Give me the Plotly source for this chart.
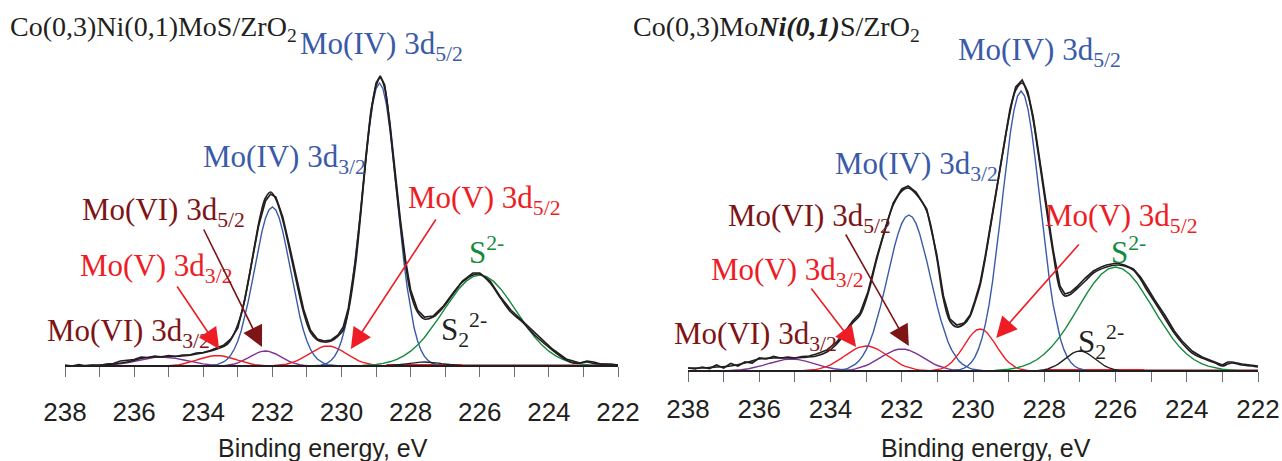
import plotly.graph_objects as go

# ================= DATA (binding energy in eV, intensity in a.u.) =================
# ---- Left panel: Co(0,3)Ni(0,1)MoS/ZrO2 ----
L_EXP_BE = [238.0,237.8,237.6,237.4,237.2,237.0,236.8,236.6,236.4,236.2,236.0,235.8,235.6,235.4,235.2,235.0,234.8,234.6,234.4,234.2,234.0,233.8,233.6,233.4,233.2,233.0,232.8,232.6,232.4,232.2,232.05,231.9,231.7,231.5,231.3,231.1,230.9,230.7,230.5,230.3,230.1,229.95,229.8,229.6,229.45,229.3,229.15,229.0,228.88,228.75,228.6,228.45,228.3,228.15,228.0,227.8,227.6,227.35,227.05,226.75,226.5,226.2,226.0,225.7,225.4,225.1,224.8,224.35,223.9,223.5,223.3,223.1,222.9,222.7,222.5,222.2,222.0]
L_EXP_I = [1,0,1.5,0,1,0.5,2,2.5,5,6,6.5,9,8.5,10,9,10.5,9.5,11,11,13,13.5,15.5,18,21,27,38,66,103,140,165,172,169,149,119,87,57,36,27,25,26,31,39,58,104,153,208,255,283,290,281,243,193,147,106,76,56,49,50,60,74,85,93,93,85,69,56,46,31,17,7,5,3,5,4,2,2,1]

L_FIT_BE = [238.0,237.4,237.0,236.6,236.2,235.8,235.4,235.0,234.6,234.2,233.9,233.6,233.3,233.1,232.9,232.7,232.5,232.35,232.2,232.05,231.9,231.7,231.5,231.3,231.1,230.9,230.7,230.5,230.3,230.1,229.95,229.8,229.6,229.45,229.3,229.15,229.0,228.88,228.75,228.6,228.45,228.3,228.15,228.0,227.8,227.6,227.35,227.05,226.75,226.5,226.2,226.0,225.7,225.4,225.1,224.8,224.35,223.9,223.5,223.3,223.1,222.9,222.7,222.5,222.2,222.0]
L_FIT_I = [0,0.5,1,2,4,7.5,9,9.5,10,12,14,17,22,33,52,84,123,150,168,174,167,146,116,84,54,34,26,24,25,30,36,55,100,150,205,252,280,288,278,240,190,143,103,73,54,47,49,59,73,84,91,92,83,68,54,45,29,16,6,3,3,4,2.5,2,1,1]

# Mo(IV) 3d5/2 (blue)
L_MO4_52_BE = [230.9,230.8,230.7,230.6,230.5,230.4,230.3,230.2,230.1,230.0,229.9,229.8,229.7,229.6,229.5,229.4,229.3,229.2,229.1,229.0,228.9,228.8,228.7,228.6,228.5,228.4,228.3,228.2,228.1,228.0,227.9,227.8,227.7,227.6,227.5,227.4,227.3,227.2,227.1,227.0,226.9]
L_MO4_52_I = [0,0.2,0.4,0.8,1.7,3.1,5.7,9.6,15.8,25.2,38.2,56.0,78.7,106.1,137.8,171.8,205.5,236.3,261.3,277.3,283,277.3,261.3,236.3,205.5,171.8,137.8,106.1,78.7,56.0,38.2,25.2,15.8,9.6,5.7,3.1,1.7,0.8,0.4,0.2,0]
# Mo(IV) 3d3/2 (blue)
L_MO4_32_BE = [234.0,233.9,233.8,233.7,233.6,233.5,233.4,233.3,233.2,233.1,233.0,232.9,232.8,232.7,232.6,232.5,232.4,232.3,232.2,232.1,232.0,231.9,231.8,231.7,231.6,231.5,231.4,231.3,231.2,231.1,231.0,230.9,230.8,230.7,230.6,230.5,230.4,230.3,230.2,230.1,230.0]
L_MO4_32_I = [0.1,0.2,0.4,0.8,1.4,2.5,4.3,7.0,11.1,17.0,25.0,35.5,48.7,64.2,81.7,100.2,118.3,134.7,147.7,156.1,159,156.1,147.7,134.7,118.3,100.2,81.7,64.2,48.7,35.5,25.0,17.0,11.1,7.0,4.3,2.5,1.4,0.8,0.4,0.2,0.1]
# Mo(V) 3d5/2 (red)
L_MO5_52_BE = [232.0,231.9,231.8,231.7,231.6,231.5,231.4,231.3,231.2,231.1,231.0,230.9,230.8,230.7,230.6,230.5,230.4,230.3,230.2,230.1,230.0,229.9,229.8,229.7,229.6,229.5,229.4,229.3,229.2,229.1,229.0,228.9,228.8]
L_MO5_52_I = [0.3,0.5,0.8,1.2,1.8,2.7,3.8,5.2,6.9,8.9,11.0,13.2,15.4,17.2,18.7,19.7,20,19.7,18.7,17.2,15.4,13.2,11.0,8.9,6.9,5.2,3.8,2.7,1.8,1.2,0.8,0.5,0.3]
# Mo(V) 3d3/2 (red)
L_MO5_32_BE = [235.0,234.9,234.8,234.7,234.6,234.5,234.4,234.3,234.2,234.1,234.0,233.9,233.8,233.7,233.6,233.5,233.4,233.3,233.2,233.1,233.0,232.9,232.8,232.7,232.6,232.5,232.4,232.3,232.2]
L_MO5_32_I = [0.4,0.6,1.0,1.4,2.0,2.8,3.6,4.7,5.8,7.0,8.1,9.1,9.8,10.3,10.5,10.3,9.8,9.1,8.1,7.0,5.8,4.7,3.6,2.8,2.0,1.4,1.0,0.6,0.4]
# Mo(VI) 3d5/2 (purple)
L_MO6_52_BE = [233.4,233.3,233.2,233.1,233.0,232.9,232.8,232.7,232.6,232.5,232.4,232.3,232.2,232.1,232.0,231.9,231.8,231.7,231.6,231.5,231.4,231.3,231.2,231.1,231.0]
L_MO6_52_I = [0.4,0.8,1.3,2.0,3.1,4.5,6.2,8.1,10.1,12.0,13.6,14.6,15,14.6,13.6,12.0,10.1,8.1,6.2,4.5,3.1,2.0,1.3,0.8,0.4]
# Mo(VI) 3d3/2 (purple)
L_MO6_32_BE = [236.8,236.6,236.4,236.2,236.0,235.8,235.6,235.4,235.2,235.0,234.8,234.6,234.4,234.2,234.0,233.8,233.6]
L_MO6_32_I = [0.7,1.2,2.1,3.2,4.7,6.2,7.6,8.6,9,8.6,7.6,6.2,4.7,3.2,2.1,1.2,0.7]
# S2- (green)
L_S_BE = [229.4,229.2,229.0,228.8,228.6,228.4,228.2,228.0,227.8,227.6,227.4,227.2,227.0,226.8,226.6,226.4,226.2,226.0,225.8,225.6,225.4,225.2,225.0,224.8,224.6,224.4,224.2,224.0,223.8,223.6,223.4,223.2,223.0,222.8,222.6]
L_S_I = [0.5,0.9,1.5,2.6,4.2,6.6,10.1,14.8,20.9,28.5,37.4,47.4,57.9,68.1,77.3,84.6,89.4,91,89.4,84.6,77.3,68.1,57.9,47.4,37.4,28.5,20.9,14.8,10.1,6.6,4.2,2.6,1.5,0.9,0.5]
# S2 2- (black)
L_S2_BE = [228.7,228.6,228.5,228.4,228.3,228.2,228.1,228.0,227.9,227.8,227.7,227.6,227.5,227.4,227.3,227.2,227.1,227.0,226.9,226.8,226.7,226.6,226.5]
L_S2_I = [0.4,0.5,0.8,1.1,1.5,1.9,2.4,2.9,3.3,3.7,3.9,4,3.9,3.7,3.3,2.9,2.4,1.9,1.5,1.1,0.8,0.5,0.4]
# flat components lying on the baseline
L_FLAT_RED_BE = [228.7,226.5]
L_FLAT_RED_I = [0.6,0.6]
L_FLAT_DARK_BE = [226.5,222.0]
L_FLAT_DARK_I = [0.3,0.3]

# ---- Right panel: Co(0,3)MoNi(0,1)S/ZrO2 ----
R_EXP_BE = [238.0,237.8,237.6,237.4,237.2,237.0,236.8,236.6,236.4,236.2,236.0,235.8,235.6,235.4,235.2,235.0,234.8,234.6,234.4,234.1,233.85,233.6,233.38,233.17,232.95,232.7,232.46,232.24,232.0,231.82,231.6,231.3,231.02,230.83,230.65,230.46,230.25,230.08,229.95,229.8,229.66,229.52,229.38,229.24,229.1,228.96,228.8,228.62,228.46,228.31,228.17,228.03,227.89,227.75,227.56,227.42,227.25,227.09,226.85,226.62,226.4,226.25,225.97,225.75,225.5,225.3,225.12,224.9,224.6,224.35,224.13,223.85,223.57,223.2,223.0,222.85,222.73,222.45,222.17,222.0]
R_EXP_I = [3,2,4,2.5,6,3,7.5,5,9,8,13,12,14.5,13,14,13,14.5,15,17,21,28,39,50,58,79,114,143,168,182,185,179,162,117,75,52,46,48,56,70,88,114,144,174,204,234,262,284,291,279,254,221,187,153,121,85,77,79,84,93,100,104,106,108,106,102,94,84,71,55,40,30,20,14,9,6,9,9,7,6,5]

R_FIT_BE = [238.0,237.6,237.2,236.8,236.4,236.0,235.6,235.2,234.8,234.4,234.1,233.85,233.6,233.38,233.17,232.95,232.7,232.46,232.24,232.0,231.82,231.6,231.3,231.02,230.83,230.65,230.46,230.25,230.08,229.95,229.8,229.66,229.52,229.38,229.24,229.1,228.96,228.8,228.62,228.46,228.31,228.17,228.03,227.89,227.75,227.56,227.42,227.25,227.09,226.85,226.62,226.25,225.97,225.75,225.5,225.3,225.12,224.9,224.6,224.35,224.13,223.85,223.57,223.2,223.0,222.85,222.73,222.45,222.17,222.0]
R_FIT_I = [3,3,4,5,8,12,13,13,13.5,15,19,26,37,48,56,77,112,142,166,180,183,177,160,114,72,50,44,47,55,68,86,112,142,172,202,232,259,281,288,276,251,218,184,150,118,82,75,77,82,90,98,104,106,105,101,92,81,69,52,38,28,18,13,8,5,7,8,6,5,4]

R_MO4_52_BE = [230.65,230.55,230.45,230.35,230.25,230.15,230.05,229.95,229.85,229.75,229.65,229.55,229.45,229.35,229.25,229.15,229.05,228.95,228.85,228.75,228.65,228.55,228.45,228.35,228.25,228.15,228.05,227.95,227.85,227.75,227.65,227.55,227.45,227.35,227.25,227.15,227.05,226.95,226.85,226.75,226.65]
R_MO4_52_I = [0.2,0.5,0.9,1.6,2.9,5.0,8.4,13.7,21.6,32.5,47.3,66.1,89.6,117.0,147.6,179.5,210.6,238.6,260.7,275.0,280,275.0,260.7,238.6,210.6,179.5,147.6,117.0,89.6,66.1,47.3,32.5,21.6,13.7,8.4,5.0,2.9,1.6,0.9,0.5,0.2]
R_MO4_32_BE = [233.9,233.8,233.7,233.6,233.5,233.4,233.3,233.2,233.1,233.0,232.9,232.8,232.7,232.6,232.5,232.4,232.3,232.2,232.1,232.0,231.9,231.8,231.7,231.6,231.5,231.4,231.3,231.2,231.1,231.0,230.9,230.8,230.7,230.6,230.5,230.4,230.3,230.2,230.1,230.0,229.9,229.8,229.7]
R_MO4_32_I = [0.3,0.6,1.0,1.7,2.8,4.5,6.9,10.2,14.9,21.1,29.0,38.8,50.7,64.1,78.9,94.7,110.3,125.0,137.6,147.6,153.8,156,153.8,147.6,137.6,125.0,110.3,94.7,78.9,64.1,50.7,38.8,29.0,21.1,14.9,10.2,6.9,4.5,2.8,1.7,1.0,0.6,0.3]
R_MO5_52_BE = [231.2,231.1,231.0,230.9,230.8,230.7,230.6,230.5,230.4,230.3,230.2,230.1,230.0,229.9,229.8,229.7,229.6,229.5,229.4,229.3,229.2,229.1,229.0,228.9,228.8,228.7,228.6,228.5,228.4]
R_MO5_52_I = [0.3,0.7,1.2,2.1,3.6,5.7,8.7,12.5,17.3,22.6,28.3,33.6,38.1,41.0,42,41.0,38.1,33.6,28.3,22.6,17.3,12.5,8.7,5.7,3.6,2.1,1.2,0.7,0.3]
R_MO5_32_BE = [234.8,234.7,234.6,234.5,234.4,234.3,234.2,234.1,234.0,233.9,233.8,233.7,233.6,233.5,233.4,233.3,233.2,233.1,233.0,232.9,232.8,232.7,232.6,232.5,232.4,232.3,232.2,232.1,232.0,231.9,231.8,231.7,231.6,231.5,231.4,231.3,231.2]
R_MO5_32_I = [0.3,0.45,0.7,1.1,1.6,2.4,3.4,4.7,6.2,8.1,10.3,12.7,15.2,17.7,20.0,22.1,23.7,24.7,25,24.7,23.7,22.1,20.0,17.7,15.2,12.7,10.3,8.1,6.2,4.7,3.4,2.4,1.6,1.1,0.7,0.45,0.3]
R_MO6_52_BE = [233.7,233.6,233.5,233.4,233.3,233.2,233.1,233.0,232.9,232.8,232.7,232.6,232.5,232.4,232.3,232.2,232.1,232.0,231.9,231.8,231.7,231.6,231.5,231.4,231.3,231.2,231.1,231.0,230.9,230.8,230.7,230.6,230.5,230.4,230.3]
R_MO6_52_I = [0.4,0.6,1.0,1.4,2.1,3.0,4.1,5.5,7.2,9.0,11.1,13.4,15.6,17.6,19.4,20.8,21.7,22,21.7,20.8,19.4,17.6,15.6,13.4,11.1,9.0,7.2,5.5,4.1,3.0,2.1,1.4,1.0,0.6,0.4]
R_MO6_32_BE = [236.9,236.7,236.5,236.3,236.1,235.9,235.7,235.5,235.3,235.1,234.9,234.7,234.5,234.3,234.1,233.9,233.7,233.5,233.3]
R_MO6_32_I = [0.3,0.6,1.2,2.2,3.7,5.6,7.8,9.9,11.4,12,11.4,9.9,7.8,5.6,3.7,2.2,1.2,0.6,0.3]
R_S_BE = [229.4,229.2,229.0,228.8,228.6,228.4,228.2,228.0,227.8,227.6,227.4,227.2,227.0,226.8,226.6,226.4,226.2,226.0,225.8,225.6,225.4,225.2,225.0,224.8,224.6,224.4,224.2,224.0,223.8,223.6,223.4,223.2,223.0,222.8,222.6]
R_S_I = [0.5,1.0,1.8,3.0,4.9,7.6,11.5,17.0,23.9,32.6,42.7,54.1,66.1,77.8,88.3,96.7,102.1,104,102.1,96.7,88.3,77.8,66.1,54.1,42.7,32.6,23.9,17.0,11.5,7.6,4.9,3.0,1.8,1.0,0.5]
R_S2_BE = [228.2,228.1,228.0,227.9,227.8,227.7,227.6,227.5,227.4,227.3,227.2,227.1,227.0,226.9,226.8,226.7,226.6,226.5,226.4,226.3,226.2,226.1,226.0,225.9,225.8]
R_S2_I = [0.3,0.6,1.2,2.0,3.3,5.0,7.2,9.9,12.7,15.5,17.9,19.4,20,19.4,17.9,15.5,12.7,9.9,7.2,5.0,3.3,2.0,1.2,0.6,0.3]
R_FLAT_RED_BE = [228.0,225.2]
R_FLAT_RED_I = [0.6,0.6]
R_FLAT_DARK_BE = [225.2,222.0]
R_FLAT_DARK_I = [0.3,0.3]

MAJOR_TICKS = [222,224,226,228,230,232,234,236,238]
MAJOR_LABELS = ["222","224","226","228","230","232","234","236","238"]
MINOR_TICKS = [223,225,227,229,231,233,235,237]
X_TITLE = "Binding energy, eV"

# ================= STYLE =================
W, H = 1282, 461
BLUE = "#3a5ba8"
RED = "#ee1d25"
PURPLE = "#7d3195"
GREEN = "#168a3c"
BLACK = "#231f20"
MAROON = "#7d1416"
SERIF = "Liberation Serif, Times New Roman, serif"
SANS = "Liberation Sans, Arial, sans-serif"

fig = go.Figure()


def line(xs, ys, color, width, ax, shape="linear"):
    fig.add_trace(go.Scatter(x=xs, y=ys, mode="lines",
                             line=dict(color=color, width=width, shape=shape),
                             xaxis="x" if ax == 1 else "x2",
                             yaxis="y" if ax == 1 else "y2",
                             hoverinfo="skip", showlegend=False))


for ax, d in ((1, dict(flat_d=(L_FLAT_DARK_BE, L_FLAT_DARK_I), flat_r=(L_FLAT_RED_BE, L_FLAT_RED_I),
                        comps=[(L_MO6_32_BE, L_MO6_32_I, PURPLE), (L_MO6_52_BE, L_MO6_52_I, PURPLE),
                               (L_MO5_32_BE, L_MO5_32_I, RED), (L_MO5_52_BE, L_MO5_52_I, RED),
                               (L_MO4_32_BE, L_MO4_32_I, BLUE), (L_MO4_52_BE, L_MO4_52_I, BLUE),
                               (L_S_BE, L_S_I, GREEN), (L_S2_BE, L_S2_I, BLACK)],
                        exp=(L_EXP_BE, L_EXP_I), fit=(L_FIT_BE, L_FIT_I))),
              (2, dict(flat_d=(R_FLAT_DARK_BE, R_FLAT_DARK_I), flat_r=(R_FLAT_RED_BE, R_FLAT_RED_I),
                        comps=[(R_MO6_32_BE, R_MO6_32_I, PURPLE), (R_MO6_52_BE, R_MO6_52_I, PURPLE),
                               (R_MO5_32_BE, R_MO5_32_I, RED), (R_MO5_52_BE, R_MO5_52_I, RED),
                               (R_MO4_32_BE, R_MO4_32_I, BLUE), (R_MO4_52_BE, R_MO4_52_I, BLUE),
                               (R_S_BE, R_S_I, GREEN), (R_S2_BE, R_S2_I, BLACK)],
                        exp=(R_EXP_BE, R_EXP_I), fit=(R_FIT_BE, R_FIT_I)))):
    line(*d["flat_d"], MAROON, 2.5, ax)
    line(*d["flat_r"], RED, 3, ax)
    for xs, ys, c in d["comps"]:
        line(xs, ys, c, 1.4, ax)
    line(*d["exp"], BLACK, 1.7, ax)
    line(*d["fit"], BLACK, 1.7, ax, shape="spline")

axis_common = dict(range=[238, 222], autorange=False, tickvals=MAJOR_TICKS, ticktext=MAJOR_LABELS,
                   ticks="outside", ticklen=10, tickwidth=1, tickcolor="#6d6e71",
                   minor=dict(tickvals=MINOR_TICKS, ticks="outside", ticklen=10, tickwidth=1,
                              tickcolor="#6d6e71", showgrid=False),
                   showline=True, linecolor=BLACK, linewidth=2, showgrid=False, zeroline=False,
                   tickfont=dict(family=SANS, size=26, color=BLACK),
                   anchor="free", automargin=False)

fig.update_layout(
    width=W, height=H, margin=dict(l=0, r=0, t=0, b=0, autoexpand=False),
    paper_bgcolor="white", plot_bgcolor="rgba(0,0,0,0)", showlegend=False,
    xaxis=dict(domain=[65 / W, 618 / W], position=1 - 366 / H, ticklabelstandoff=13, **axis_common),
    yaxis=dict(domain=[1 - 376 / H, 1], range=[-10, 366], visible=False, automargin=False),
    xaxis2=dict(domain=[688 / W, 1258 / W], position=1 - 371 / H, ticklabelstandoff=5, **axis_common),
    yaxis2=dict(domain=[1 - 381 / H, 1], range=[-10, 371], visible=False, automargin=False),
)

# ---- text labels (positions in pixels of the 1282x461 page) ----
labels = [
    ("Co(0,3)Ni(0,1)MoS/ZrO<sub>2</sub>", 8, 28, BLACK, 28),
    ("Mo(IV) 3d<sub>5/2</sub>", 298, 46, BLUE, 31),
    ("Mo(IV) 3d<sub>3/2</sub>", 201, 159, BLUE, 31),
    ("Mo(V) 3d<sub>5/2</sub>", 406, 200, RED, 31),
    ("Mo(VI) 3d<sub>5/2</sub>", 80, 212, MAROON, 31),
    ("Mo(V) 3d<sub>3/2</sub>", 78, 268, RED, 31),
    ("Mo(VI) 3d<sub>3/2</sub>", 45, 333, MAROON, 31),
    ("S<sup>2-</sup>", 467, 250, GREEN, 31),
    ("S<sub>2</sub><sup>2-</sup>", 439, 330, BLACK, 31),
    ("Co(0,3)Mo<b><i>Ni(0,1)</i></b>S/ZrO<sub>2</sub>", 631, 28, BLACK, 28),
    ("Mo(IV) 3d<sub>5/2</sub>", 956, 52, BLUE, 31),
    ("Mo(IV) 3d<sub>3/2</sub>", 833, 166, BLUE, 31),
    ("Mo(VI) 3d<sub>5/2</sub>", 726, 218, MAROON, 31),
    ("Mo(V) 3d<sub>5/2</sub>", 1043, 218, RED, 31),
    ("Mo(V) 3d<sub>3/2</sub>", 709, 272, RED, 31),
    ("Mo(VI) 3d<sub>3/2</sub>", 672, 336, MAROON, 31),
    ("S<sup>2-</sup>", 1109, 250, GREEN, 31),
    ("S<sub>2</sub><sup>2-</sup>", 1076, 342, BLACK, 31),
]
for text, px, py, color, size in labels:
    fig.add_annotation(text=text, x=px / W, y=1 - py / H, xref="paper", yref="paper",
                       xanchor="left", yanchor="middle", showarrow=False,
                       font=dict(family=SERIF, size=size, color=color))

# axis titles (centred where the reference places them)
for cx in (323, 986):
    fig.add_annotation(text=X_TITLE, x=cx / W, y=1 - 448 / H, xref="paper", yref="paper",
                       xanchor="center", yanchor="middle", showarrow=False,
                       font=dict(family=SANS, size=25, color=BLACK))

# ---- arrows: tip in data coords (BE, intensity), tail offset in pixels ----
arrows = [
    ("x", "y", 232.30, 19, -59, -119, MAROON),
    ("x", "y", 233.54, 17, -43, -64, RED),
    ("x", "y", 229.73, 17, 86, -131, RED),
    ("x2", "y2", 231.80, 25, -64, -113, MAROON),
    ("x2", "y2", 233.28, 24, -46, -60, RED),
    ("x2", "y2", 229.35, 33, 84, -95, RED),
]
for xr, yr, bx, iy, dx, dy, color in arrows:
    fig.add_annotation(text="", x=bx, y=iy, xref=xr, yref=yr, ax=dx, ay=dy,
                       axref="pixel", ayref="pixel", showarrow=True, arrowhead=2,
                       arrowsize=2.6, arrowwidth=1.6, arrowcolor=color, standoff=0)

fig.write_html("out.html", config={"displayModeBar": False, "staticPlot": True},
               post_script="document.body.style.margin='0px';")
